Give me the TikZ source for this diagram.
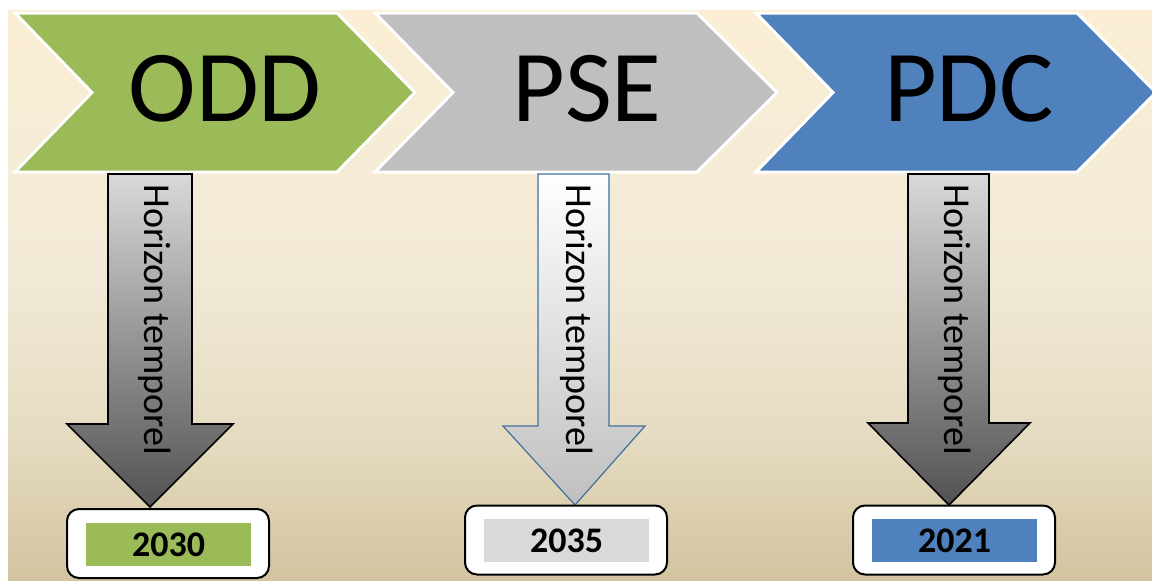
\documentclass[tikz,border=0pt]{standalone}
\usepackage{fontspec}
\setmainfont{Carlito}

\definecolor{oddgreen}{HTML}{9BBB59}
\definecolor{psegrey}{HTML}{BFBFBF}
\definecolor{pdcblue}{HTML}{4F81BD}
\definecolor{tagegrey}{HTML}{D9D9D9}
\definecolor{arrowblue}{HTML}{41719C}
\definecolor{sandtop}{HTML}{FBEED4}
\definecolor{sandmid}{HTML}{F1EAD7}
\definecolor{sandlow}{HTML}{E6DCC2}
\definecolor{sandbot}{HTML}{D3C4A0}
\pgfdeclareverticalshading{sandfade}{100bp}{color(0bp)=(sandbot); color(25bp)=(sandbot); color(38bp)=(sandlow); color(52bp)=(sandmid); color(75bp)=(sandtop); color(100bp)=(sandtop)}

\begin{document}
\begin{tikzpicture}[x=0.5pt,y=-0.5pt,
	chevron/.style={draw=white,line width=1.5pt},
	darkarrow/.style={draw=black,line width=0.8pt,top color=black!15,bottom color=black!68},
	lightarrow/.style={draw=arrowblue,line width=0.6pt,top color=white,bottom color=psegrey},
	horizon/.style={rotate=-90,inner sep=0pt,font=\fontsize{19}{22}\selectfont},
	bigtag/.style={inner sep=0pt,font=\fontsize{51}{60}\selectfont},
	yearbox/.style={draw=black,line width=1pt,fill=white,rounded corners=6pt,minimum width=101pt,minimum height=34.5pt},
	yeartag/.style={inner sep=0pt,minimum width=82.5pt,minimum height=21.5pt,font=\fontsize{18}{20}\selectfont\bfseries}]
	\useasboundingbox (0,0) rectangle (1152,580);
	\fill[white] (0,0) rectangle (1152,580);
	\shade[shading=sandfade] (8,10) rectangle (1152,580);
	% chevrons
	\draw[chevron,fill=oddgreen] (15,13)--(337,13)--(415,92.5)--(337,172)--(15,172)--(92,92.5)--cycle;
	\draw[chevron,fill=psegrey] (375,13)--(697,13)--(777,92.5)--(697,172)--(375,172)--(453,92.5)--cycle;
	\draw[chevron,fill=pdcblue] (756,13)--(1077,13)--(1156,92.5)--(1077,172)--(756,172)--(833,92.5)--cycle;
	\node[bigtag] (odd) at (225,89){ODD};
	\node[bigtag] (pse) at (587,89){PSE};
	\node[bigtag] (pdc) at (969,89){PDC};
	% arrows
	\draw[darkarrow] (108,174)--(192,174)--(192,424)--(233,424)--(150,507)--(67,424)--(108,424)--cycle;
	\draw[lightarrow] (538,174)--(609,174)--(609,426)--(645,426)--(575,505)--(503,426)--(538,426)--cycle;
	\draw[darkarrow] (908,174)--(989,174)--(989,423)--(1030,423)--(949,505)--(868,423)--(908,423)--cycle;
	\node[horizon] (hodd) at (155,320){Horizon temporel};
	\node[horizon] (hpse) at (577,320){Horizon temporel};
	\node[horizon] (hpdc) at (955,320){Horizon temporel};
	% years
	\node[yearbox] (boxodd) at (168,543.5){};
	\node[yearbox] (boxpse) at (566,540){};
	\node[yearbox] (boxpdc) at (954,540){};
	\node[yeartag,fill=oddgreen] (y2030) at (168.5,544.5){2030};
	\node[yeartag,fill=tagegrey] (y2035) at (566.5,540.5){2035};
	\node[yeartag,fill=pdcblue] (y2021) at (954.5,540.5){2021};
\end{tikzpicture}
\end{document}
